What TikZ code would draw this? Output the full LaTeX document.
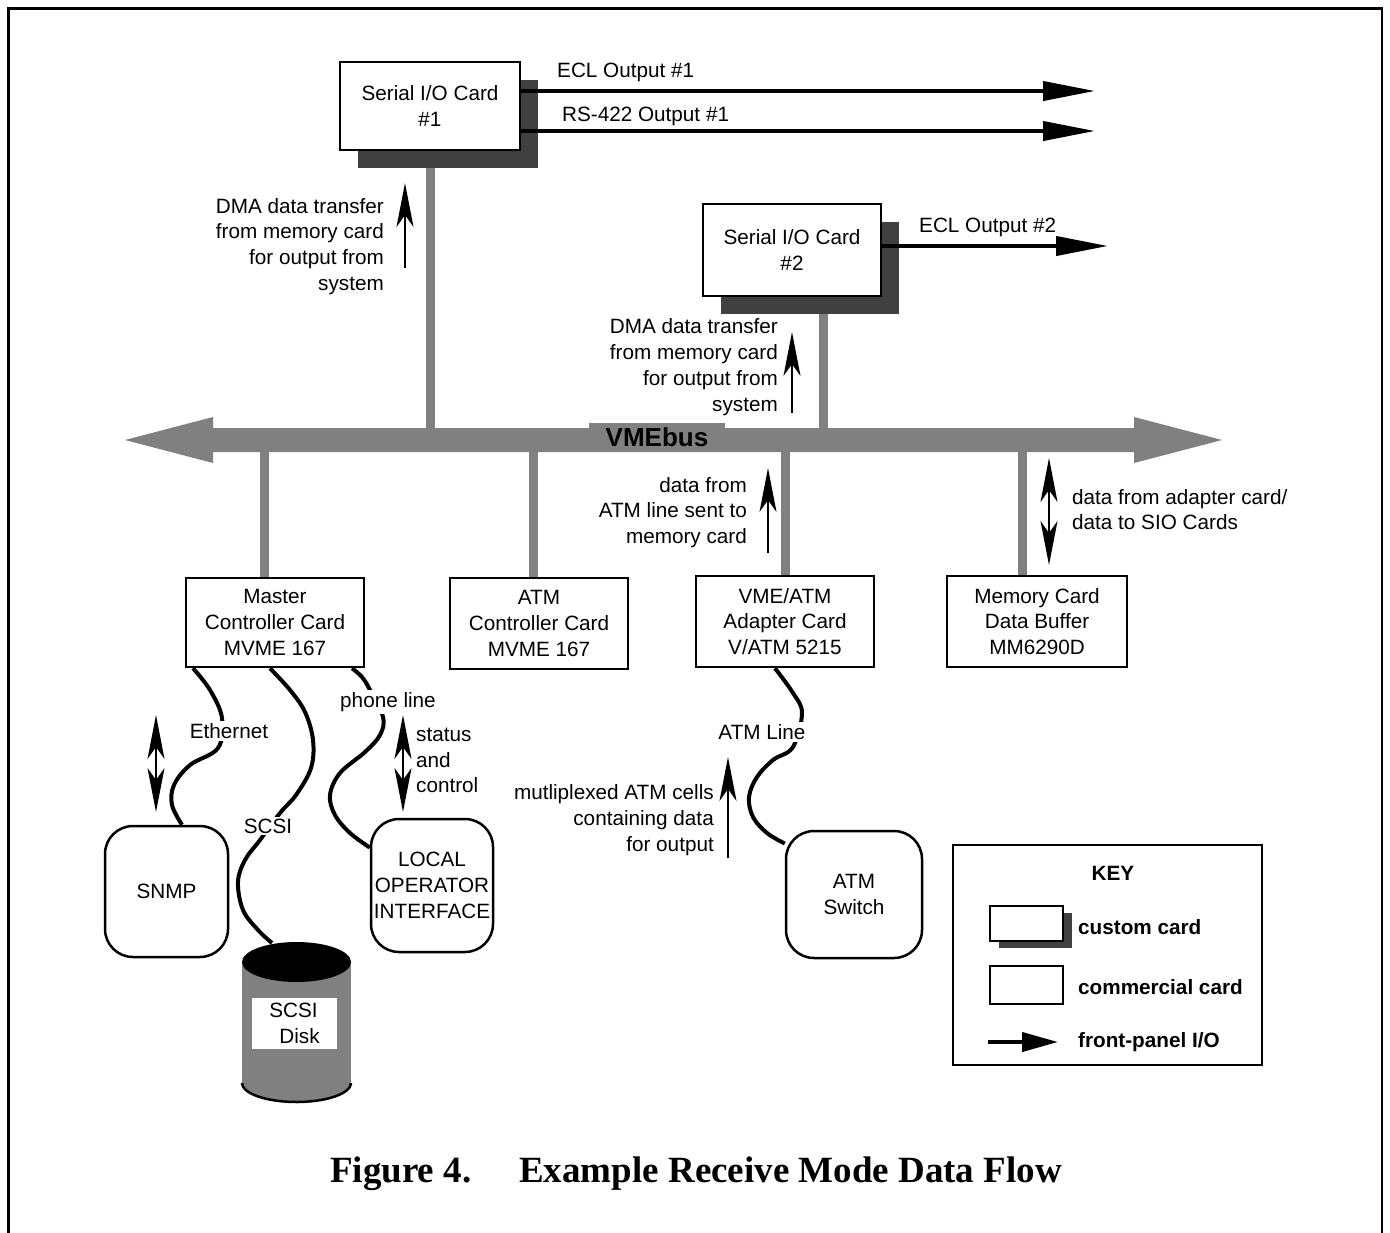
\documentclass[tikz,border=0pt]{standalone}
\usepackage{fontspec}
\setmainfont{Liberation Sans}
\newfontfamily\titlefont{Liberation Serif}
\usetikzlibrary{arrows.meta,shadows}
\pgfdeclarelayer{bg}
\pgfsetlayers{bg,main}
\definecolor{busgray}{RGB}{128,128,128}
\definecolor{shadowc}{RGB}{64,64,64}
\begin{document}
\begin{tikzpicture}[x=1pt,y=-1pt,
  every node/.style={font=\fontsize{20.7pt}{25.8pt}\selectfont, inner sep=0pt},
  card/.style={draw, line width=2.5pt, fill=white, align=center},
  custom/.style={card, drop shadow={shadow xshift=18pt, shadow yshift=-18pt, fill=shadowc, opacity=1}},
  rbox/.style={draw, line width=2.5pt, fill=white, rounded corners=28pt, align=center},
  stub/.style={draw=busgray, line width=9pt},
  cable/.style={draw, line width=4pt},
  fpio/.style={draw, line width=4pt, -{Triangle[length=52pt,width=19pt]}},
  uparrow/.style={draw, line width=2.2pt, -{Stealth[length=44pt,width=17pt,inset=12pt]}},
  dblarrow/.style={draw, line width=2.2pt, {Stealth[length=44pt,width=17pt,inset=12pt]}-{Stealth[length=44pt,width=17pt,inset=12pt]}},
  lbl/.style={fill=white, inner sep=2pt},
  note/.style={align=right, anchor=east},
  notel/.style={align=left, anchor=west},
  keytxt/.style={anchor=west, font=\fontsize{20.7pt}{25.8pt}\selectfont\bfseries},
  titletxt/.style={font=\titlefont\bfseries\fontsize{37pt}{43pt}\selectfont}
]
\useasboundingbox (0,0) rectangle (1390,1232);
% outer frame
\draw[line width=2.7pt] (8.5,1245) -- (8.5,8.5) -- (1382,8.5) -- (1382,1245);

% VMEbus
\fill[busgray] (125,440) -- (213,417) -- (213,428) -- (1134,428) -- (1134,417) -- (1222,440) -- (1134,463) -- (1134,452) -- (213,452) -- (213,463) -- cycle;
\coordinate (busC) at (0,440);
\node[fill=busgray, minimum width=136, minimum height=28, font=\fontsize{26pt}{30pt}\selectfont\bfseries] (buslbl) at (657,437) {VMEbus};

% cards
\node[custom, minimum width=180, minimum height=88] (card1) at (430,106) {Serial I/O Card\\\#1};
\node[custom, minimum width=178, minimum height=92] (card2) at (792,250) {Serial I/O Card\\\#2};
\node[card, minimum width=178, minimum height=89] (master) at (275,622.5) {Master\\Controller Card\\MVME 167};
\node[card, minimum width=178, minimum height=91] (atmc) at (539,623.5) {ATM\\Controller Card\\MVME 167};
\node[card, minimum width=178, minimum height=91] (vmeatm) at (785,621.5) {VME/ATM\\Adapter Card\\V/ATM 5215};
\node[card, minimum width=180, minimum height=91] (mem) at (1037,621.5) {Memory Card\\Data Buffer\\MM6290D};

% stubs
\begin{pgfonlayer}{bg}
\draw[stub] (card1.south) -- (card1.south |- busC);
\draw[stub] ([xshift=31pt]card2.south) -- ([xshift=31pt]card2.south |- busC);
\draw[stub] ([xshift=-11pt]master.north) -- ([xshift=-11pt]master.north |- busC);
\draw[stub] ([xshift=-6pt]atmc.north) -- ([xshift=-6pt]atmc.north |- busC);
\draw[stub] (vmeatm.north) -- (vmeatm.north |- busC);
\draw[stub] ([xshift=-15pt]mem.north) -- ([xshift=-15pt]mem.north |- busC);
\end{pgfonlayer}

% front panel outputs
\coordinate (o1) at (1095,91);
\coordinate (o2) at (1095,131);
\coordinate (o3) at (1108,246);
\draw[fpio] ([yshift=15pt]card1.east) -- (o1);
\draw[fpio] ([yshift=-25pt]card1.east) -- (o2);
\draw[fpio] ([yshift=4pt]card2.east) -- (o3);
\node[anchor=west] (l1) at (557,72) {ECL Output \#1};
\node[anchor=west] (l2) at (562,116) {RS-422 Output \#1};
\node[anchor=west] (l3) at (919,227) {ECL Output \#2};

% notes and arrows
\node[note] (dma1) at (384,246.5) {DMA data transfer\\from memory card\\for output from\\system};
\node[note] (dma2) at (778,367) {DMA data transfer\\from memory card\\for output from\\system};
\node[note] (atmdata) at (747,512.5) {data from\\ATM line sent to\\memory card};
\node[notel] (memnote) at (1072,509.5) {data from adapter card/\\data to SIO Cards};
\node[notel] (status) at (416,760.5) {status\\and\\control};
\node[note] (mux) at (714,820) {mutliplexed ATM cells\\containing data\\for output};

\coordinate (a1b) at (405,268); \coordinate (a1t) at (405,183);
\coordinate (a2b) at (792,413); \coordinate (a2t) at (792,332);
\coordinate (a3b) at (768,553); \coordinate (a3t) at (768,468);
\coordinate (a4b) at (728,858); \coordinate (a4t) at (728,757);
\draw[uparrow] (a1b) -- (a1t);
\draw[uparrow] (a2b) -- (a2t);
\draw[uparrow] (a3b) -- (a3t);
\draw[uparrow] (a4b) -- (a4t);
\coordinate (d1a) at (1049,458); \coordinate (d1b) at (1049,565);
\coordinate (d2a) at (156,715); \coordinate (d2b) at (156,812);
\coordinate (d3a) at (403,715); \coordinate (d3b) at (403,812);
\draw[dblarrow] (d1a) -- (d1b);
\draw[dblarrow] (d2a) -- (d2b);
\draw[dblarrow] (d3a) -- (d3b);

% peripherals
\node[rbox, minimum width=123, minimum height=131] (snmp) at (166.5,891.5) {SNMP};
\node[rbox, minimum width=122, minimum height=133] (loi) at (432,885.5) {LOCAL\\OPERATOR\\INTERFACE};
\node[rbox, minimum width=136, minimum height=127] (atmsw) at (854,894.5) {ATM\\Switch};

% disk
\fill[busgray] (242,962) rectangle (351,1083);
\fill[busgray] (296.5,1083) ellipse [x radius=54.5, y radius=19];
\begin{scope}
\clip (230,1083) rectangle (365,1112);
\draw[line width=2.5pt] (296.5,1083) ellipse [x radius=54.5, y radius=19];
\end{scope}
\fill[black] (296.5,962) ellipse [x radius=54.5, y radius=20];
\node[fill=white, minimum width=85, minimum height=51, align=left] (disklbl) at (294.5,1023.5) {SCSI\\\hspace*{10pt}Disk};
\coordinate (dtop) at (272,943);

% cables
\coordinate (e0) at ([xshift=-82pt]master.south);
\coordinate (e1) at ([xshift=15.5pt]snmp.north);
\coordinate (s0) at ([xshift=-5pt]master.south);
\coordinate (p0) at ([xshift=77pt]master.south);
\coordinate (p1) at ([yshift=38pt]loi.west);
\coordinate (t0) at ([xshift=-10pt]vmeatm.south);
\coordinate (t1) at ([yshift=51pt]atmsw.west);
\draw[cable] plot[smooth, tension=0.6] coordinates {(e0) (210,690) (222,718) (218,748) (190,765) (174,785) (172,805) (e1)};
\draw[cable] plot[smooth, tension=0.6] coordinates {(s0) (290,690) (305,712) (313,740) (311,768) (296,795) (280,813) (260,840) (245,860) (238,882) (243,910) (258,930) (dtop)};
\draw[cable] plot[smooth, tension=0.6] coordinates {(p0) (362,677) (370,690) (383,717) (380,735) (365,752) (340,773) (330,795) (335,815) (350,833) (p1)};
\draw[cable] plot[smooth, tension=0.6] coordinates {(t0) (793,693) (802,713) (793,747) (773,760) (757,777) (749,797) (753,817) (767,833) (t1)};
\node[lbl] (ethl) at (229,731) {Ethernet};
\node[lbl] (scsil) at (268,826) {SCSI};
\node[lbl] (phonel) at (388,702) {phone line};
\node[lbl] (atml) at (762,732) {ATM Line};

% key
\node[draw, line width=2.5pt, minimum width=309, minimum height=220] (key) at (1107.5,955) {};
\node[font=\fontsize{20.7pt}{25.8pt}\selectfont\bfseries] (keyt) at (1113,873) {KEY};
\node[card, drop shadow={shadow xshift=9pt, shadow yshift=-7pt, fill=shadowc, opacity=1}, minimum width=73, minimum height=35] (kcust) at (1026.5,923.5) {};
\node[card, minimum width=73, minimum height=38] (kcom) at (1026.5,985) {};
\coordinate (kas) at (988,1042); \coordinate (kae) at (1058,1042);
\draw[line width=4pt, -{Triangle[length=36pt,width=19pt]}] (kas) -- (kae);
\node[keytxt] (kt1) at (1078,927) {custom card};
\node[keytxt] (kt2) at (1078,987) {commercial card};
\node[keytxt] (kt3) at (1078,1042) {front-panel I/O};

% title
\node[anchor=base west, titletxt] (fig) at (330,1182) {Figure 4.};
\node[anchor=base east, titletxt] (figt) at (1062,1182) {Example Receive Mode Data Flow};
\end{tikzpicture}
\end{document}
